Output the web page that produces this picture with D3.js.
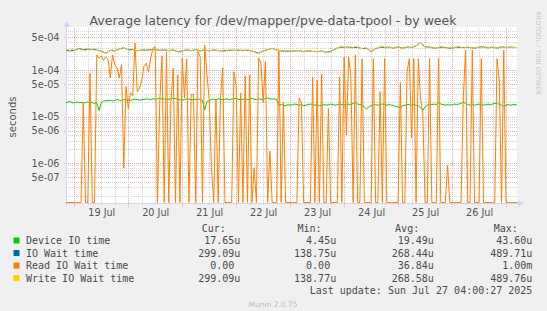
<!DOCTYPE html>
<html>
<head>
<meta charset="utf-8">
<script src="https://cdn.jsdelivr.net/npm/d3@7"></script>
<style>
  body { margin: 0; background: #f0f0f0; }
  svg { display: block; font-family: "DejaVu Sans", sans-serif; }
  .legend text { font-family: "DejaVu Sans Mono", monospace; font-size: 10px; fill: #4a4a4a; white-space: pre; }
</style>
</head>
<body>
<script>
// samples are hourly from 18 Jul 20:00 (ioWait every 2 hours), values in microseconds
const samplesStart = new Date(2025, 6, 18, 20, 0);
const HOUR = 3600e3;

const deviceIO = [
  20.5,20,21,20,19.5,20.5,20,20,19.5,20,20.5,19.5,20,19,20,
  13.5,
  20,21.5,22,22,22.5,21.5,22,23,22.5,22,23,22.5,23,22,23,23.5,23,22.5,23,23,24,23.5,23,24,23.5,
  24,24.5,23.5,24,23,23.5,24,25,24,23.5,23,22.5,23,24,23.5,23,23,23.5,24,23,22,
  14,
  21,22,23,23.5,23,24,23.5,23,23.5,24,23,23.5,24,24.5,23.5,23,23.5,24,23,23.5,24.5,23.5,23,24,23.5,23,24.5,25,24,23.5,24,23,
  17.5,18,17.5,17,18,17.5,18,18.5,18,17.5,
  18,17,17.5,18,18.5,18,17.5,18,17,17.5,
  18,17.5,18,18.5,18,17.5,18,18.5,18,17.5,
  18,18.5,18,19,20,18.5,18,17.5,16,14.5,
  16,17,17.5,18,17.5,18,18.5,18,17.5,18,
  17.5,17,16.5,16,15.5,17,17.5,18,18,17.5,
  18,17.5,17,15.5,13.5,16,17.5,18,18,18.5,
  18,20,18.5,18,17.5,18,17.5,18,18.5,18,
  18.5,19,20.5,19,18,17.5,18,17.5,18,18.5,
  18,17.5,18,18.5,18,18.5,19,19.5,18,17.5,
  16.5,17.5,18,17.5,18,18,17.5
];

const ioWait = [
  263,256,261,289,271,279,274,269,
  251,229,261,256,279,299,271,274,256,269,266,269,274,
  263,269,259,269,246,256,269,259,274,256,
  269,256,269,259,256,263,264,263,263,263,261,244,229,256,271,289,266,
  256,251,251,254,259,246,257,249,246,254,
  239,249,281,309,304,
  308,301,304,286,291,247,284,309,
  303,308,292,313,292,308,303,328,386,311,
  308,292,302,308,298,292,308,303,302,303,292,308,313,297,308,292,313,302,308,303
];

const readWait = [
  0,0,0,0,0,0,0,0,19.5,0,
  0,84,0,0,210,180,200,160,190,170,
  67,210,130,110,67,130,0.78,44,15,32,
  28,380,34,40,60,120,140,90,180,290,
  320,0,20,200,0,240,0,21,108,0,
  78,0,180,25,170,0,30,30,0,250,
  190,0,340,80,23,0.8,0,23,0,23,
  110,0,0,0,0,91,45,0,32,0,
  75,0,78,0,0.8,0,180,140,20,150,
  0,1.8,0,0,0,270,0,20,0,0,
  0,0,0,0,25,20,0,0,0,0,
  71,0,60,0,80,0,0,15,0,0,
  0,0,70,0,190,4,190,75,0,210,
  0,0,175,0,0,0,0,175,0,0,
  34,0,175,0,0,0,0,0,0,54,
  0,0,91,175,3.5,175,0,175,23,12,
  0,0,175,0,0,0,175,0,0,0,
  0.9,0,0,0,0,0,0,25,265,0,
  0,265,0,0,0,175,0,0,0,0,
  0,0,175,60,0,265,0,0,0,0,
  0,0
];

const writeWait = [
  262,275,255,280,260,270,290,262,272,255,280,265,275,290,270,260,
  250,240,228,245,260,270,255,265,280,295,300,285,270,262,275,268,255,262,270,280,265,258,270,262,275,
  268,262,255,270,265,258,262,270,252,245,240,255,262,270,265,258,268,275,262,255,265,
  270,262,255,262,270,265,258,262,255,250,262,270,265,258,262,270,262,255,262,268,262,255,245,232,228,240,255,262,270,282,290,278,265,
  262,255,248,252,258,250,245,255,262,258,250,245,252,258,255,248,252,245,250,255,
  245,238,232,248,265,280,295,310,320,305,300,
  310,295,300,320,305,290,285,300,290,270,245,265,285,300,310,
  320,305,295,310,300,290,305,315,300,290,295,310,300,305,320,330,345,390,330,310,
  300,310,295,290,305,300,315,310,295,300,305,290,300,310,320,305,295,300,310,305,295,290,300,310,305,315,300,295,305,310,300,290,305,315,310,300,305,310,300,305,300
];

const yTickValues = [5e-4, 1e-4, 5e-5, 1e-5, 5e-6, 1e-6, 5e-7];
const yTickLabels = ["5e-04", "1e-04", "5e-05", "1e-05", "5e-06", "1e-06", "5e-07"];
const xTickDays = [19, 20, 21, 22, 23, 24, 25, 26];
const xTickLabels = ["19 Jul", "20 Jul", "21 Jul", "22 Jul", "23 Jul", "24 Jul", "25 Jul", "26 Jul"];

const legendNames = ["Device IO time", "IO Wait time", "Read IO Wait time", "Write IO Wait time"];
const legendColors = ["#00cc00", "#0066b3", "#ff8000", "#ffcc00"];
const curVals = ["17.65u", "299.09u", "0.00 ", "299.09u"];
const minVals = ["4.45u", "138.75u", "0.00 ", "138.77u"];
const avgVals = ["19.49u", "268.44u", "36.84u", "268.58u"];
const maxVals = ["43.60u", "489.71u", "1.00m", "489.76u"];

const width = 547, height = 311;
const plotLeft = 66, plotRight = 517, plotTop = 28, plotBottom = 202.5;

const svg = d3.select("body").append("svg").attr("width", width).attr("height", height);

const x = d3.scaleTime()
  .domain([new Date(2025, 6, 18, 20, 19), new Date(2025, 6, 27, 4, 53)])
  .range([plotLeft, plotRight]);
const y = d3.scaleLog()
  .domain([1.427e-7, 7.93e-4])
  .range([plotBottom, plotTop])
  .clamp(true);

// canvas
svg.append("rect").attr("x", plotLeft).attr("y", plotTop - 1).attr("width", plotRight - plotLeft)
  .attr("height", plotBottom - plotTop + 1.5).attr("fill", "#fff");

// grid
const minorY = [];
for (let e = -7; e <= -4; e++) for (let m = 2; m <= 9; m++) if (m !== 5) minorY.push(m * Math.pow(10, e));
const majorY = [];
for (let e = -7; e <= -4; e++) { majorY.push(Math.pow(10, e)); majorY.push(5 * Math.pow(10, e)); }
const inY = v => v >= y.domain()[0] && v <= y.domain()[1];

const minorColor = "#d4d4d4", majorColor = "#f4a8a8";
const grid = svg.append("g").attr("shape-rendering", "crispEdges");
grid.selectAll(".yminor").data(minorY.filter(inY)).join("line")
  .attr("x1", plotLeft).attr("x2", plotRight)
  .attr("y1", d => Math.round(y(d)) + 0.5).attr("y2", d => Math.round(y(d)) + 0.5)
  .attr("stroke", minorColor).attr("stroke-dasharray", "1,1");
const hours6 = d3.timeHour.every(6).range(x.domain()[0], x.domain()[1]).filter(d => d.getHours() !== 0);
grid.selectAll(".xminor").data(hours6).join("line")
  .attr("x1", d => Math.round(x(d)) + 0.5).attr("x2", d => Math.round(x(d)) + 0.5)
  .attr("y1", plotTop).attr("y2", plotBottom + 3)
  .attr("stroke", minorColor).attr("stroke-dasharray", "1,1");
grid.selectAll(".ymajor").data(majorY.filter(inY)).join("line")
  .attr("x1", plotLeft - 2).attr("x2", plotRight)
  .attr("y1", d => Math.round(y(d)) + 0.5).attr("y2", d => Math.round(y(d)) + 0.5)
  .attr("stroke", majorColor).attr("stroke-dasharray", "1,1");
const days = d3.timeDay.range(x.domain()[0], x.domain()[1]);
grid.selectAll(".xmajor").data(days).join("line")
  .attr("x1", d => Math.round(x(d)) + 0.5).attr("x2", d => Math.round(x(d)) + 0.5)
  .attr("y1", plotTop).attr("y2", plotBottom + 4)
  .attr("stroke", majorColor).attr("stroke-dasharray", "1,1");

// axes lines with arrows
const axisColor = "#cfd6f8";
svg.append("line").attr("x1", plotLeft - 3).attr("x2", plotRight + 2).attr("y1", 203.5).attr("y2", 203.5).attr("stroke", axisColor);
svg.append("path").attr("d", `M${plotRight + 1},200 L${plotRight + 7},203.5 L${plotRight + 1},207 Z`).attr("fill", axisColor);
svg.append("line").attr("x1", plotLeft + 0.5).attr("x2", plotLeft + 0.5).attr("y1", 206).attr("y2", plotTop - 2).attr("stroke", axisColor);
svg.append("path").attr("d", `M${plotLeft - 3},${plotTop - 1} L${plotLeft + 0.5},${plotTop - 7} L${plotLeft + 4},${plotTop - 1} Z`).attr("fill", axisColor);

// data lines
svg.append("clipPath").attr("id", "clip").append("rect")
  .attr("x", plotLeft).attr("y", plotTop - 1).attr("width", plotRight - plotLeft).attr("height", plotBottom - plotTop + 1.5);

const toSeries = (arr, stepHours) => arr.map((v, i) => ({ t: new Date(+samplesStart + i * stepHours * HOUR), v: v * 1e-6 }));
const line = d3.line()
  .x(d => x(d.t))
  .y(d => d.v > 0 ? y(d.v) : plotBottom);

const plot = svg.append("g").attr("clip-path", "url(#clip)");
const series = [
  { data: toSeries(deviceIO, 1), color: legendColors[0] },
  { data: toSeries(ioWait, 2), color: legendColors[1] },
  { data: toSeries(readWait, 1), color: legendColors[2] },
  { data: toSeries(writeWait, 1), color: legendColors[3] }
];
series.forEach(s => {
  plot.append("path").datum(s.data)
    .attr("fill", "none").attr("stroke", s.color).attr("stroke-width", 1)
    .attr("d", line);
});

// tick labels
const yAxis = d3.axisLeft(y).tickValues(yTickValues).tickSize(0).tickPadding(6.5)
  .tickFormat((d, i) => yTickLabels[i]);
svg.append("g").attr("transform", `translate(${plotLeft},0)`).call(yAxis)
  .call(g => g.select(".domain").remove())
  .selectAll("text").attr("font-size", "9.7px").attr("fill", "#555").attr("font-family", "DejaVu Sans");

const xAxis = d3.axisBottom(x)
  .tickValues(xTickDays.map(d => new Date(2025, 6, d, 12)))
  .tickSize(0).tickPadding(5.5)
  .tickFormat((d, i) => xTickLabels[i]);
svg.append("g").attr("transform", "translate(0,203.5)").call(xAxis)
  .call(g => g.select(".domain").remove())
  .selectAll("text").attr("font-size", "9.7px").attr("fill", "#555").attr("font-family", "DejaVu Sans");

// titles
svg.append("text").attr("x", 273).attr("y", 25).attr("text-anchor", "middle")
  .attr("font-size", "12.5px").attr("fill", "#555")
  .text("Average latency for /dev/mapper/pve-data-tpool - by week");
svg.append("text").attr("transform", "translate(15.5,117) rotate(-90)").attr("text-anchor", "middle")
  .attr("font-size", "10px").attr("fill", "#555").text("seconds");
svg.append("text").attr("transform", "translate(536,53) rotate(90)").attr("text-anchor", "middle")
  .attr("font-size", "6.5px").attr("fill", "#c8c8c8").text("RRDTOOL / TOBI OETIKER");

// legend
const legend = svg.append("g").attr("class", "legend");
const rowY = i => 244 + i * 12.55;
const colRight = [240.4, 336.2, 433.8, 532.4];
["Cur:", "Min:", "Avg:", "Max:"].forEach((h, j) => {
  legend.append("text").attr("x", colRight[j] - 14.6).attr("y", 232.1).attr("text-anchor", "end").text(h);
});
legendNames.forEach((name, i) => {
  legend.append("rect").attr("x", 13.5).attr("y", rowY(i) - 6.5).attr("width", 6).attr("height", 6).attr("fill", legendColors[i]);
  legend.append("text").attr("x", 26).attr("y", rowY(i)).text(name);
  [curVals, minVals, avgVals, maxVals].forEach((col, j) => {
    legend.append("text").attr("x", colRight[j]).attr("y", rowY(i)).attr("text-anchor", "end").text(col[i]);
  });
});
legend.append("text").attr("x", colRight[3]).attr("y", rowY(4)).attr("text-anchor", "end")
  .text("Last update: Sun Jul 27 04:00:27 2025");
svg.append("text").attr("x", 273).attr("y", 306.5).attr("text-anchor", "middle")
  .attr("font-size", "7.5px").attr("fill", "#bbb").text("Munin 2.0.75");
</script>
</body>
</html>
